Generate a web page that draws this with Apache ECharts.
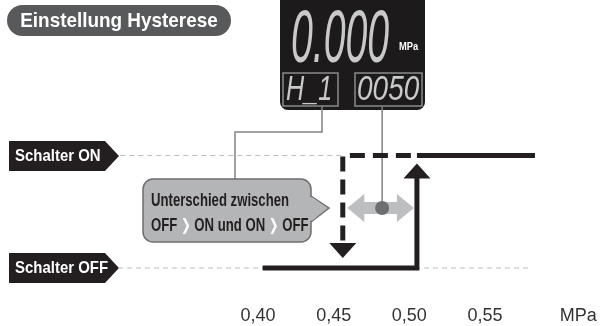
<!DOCTYPE html>
<html>
<head>
<meta charset="utf-8">
<script src="https://cdn.jsdelivr.net/npm/echarts@6/dist/echarts.min.js"></script>
<style>
html,body{margin:0;padding:0;background:#fff;}
#chart{width:615px;height:326px;}
</style>
</head>
<body>
<div id="chart"></div>
<script>
// pressure in 1/100 MPa, switch state 0 = OFF, 1 = ON
const xTicks = [40, 45, 50, 55];
const unitTick = 60;
const onGuide = [[30.9, 1], [45.6, 1]];
const offGuide = [[30.75, 0], [57.9, 0]];
const risePath = [[40.3, 0], [50.5, 0], [50.5, 0.8]];
const onPath = [[50.5, 1], [58.3, 1]];
const fallPath = [[50.1, 1], [45.6, 1], [45.6, 0.22]];
const upHead = [[50.5, 0.862]];
const downHead = [[45.6, 0.156]];
const hysteresis = [[45.9, 50.3, 0.533, 48.2]];

const sans = "'Liberation Sans', Arial, sans-serif";
const chart = echarts.init(document.getElementById('chart'));

function tag(y, label) {
    return [{
        type: 'polygon',
        shape: {points: [[9, y - 15], [105, y - 15], [119, y], [105, y + 15], [9, y + 15]]},
        style: {fill: '#231f20'}
    }, {
        type: 'text', x: 15, y: y, scaleX: 0.88,
        style: {text: label, fill: '#fff', font: 'bold 17px ' + sans, textVerticalAlign: 'middle'}
    }];
}

const option = {
    animation: false,
    grid: {left: 106.7, right: 54.3, top: 155.5, bottom: 58},
    xAxis: {
        type: 'value', min: 30, max: 60, interval: 5,
        axisLine: {show: false}, axisTick: {show: false}, splitLine: {show: false},
        axisLabel: {
            margin: 39, color: '#333', fontSize: 18, fontFamily: sans, showMaxLabel: true,
            formatter: function (v) {
                if (v === unitTick) return '{u|MPa}';
                return xTicks.indexOf(v) >= 0 ? '0,' + String(v).padStart(2, '0') : '';
            },
            rich: {u: {color: '#333', fontSize: 18, fontFamily: sans, padding: [0, 0, 0, 35]}}
        }
    },
    yAxis: {type: 'value', min: 0, max: 1, show: false},
    graphic: [
        {type: 'rect', shape: {x: 7, y: 5, width: 224, height: 31, r: 15.5}, style: {fill: '#58595b'}},
        {type: 'text', x: 119, y: 21, scaleX: 0.9, style: {text: 'Einstellung Hysterese', fill: '#fff',
            font: 'bold 21px ' + sans, textAlign: 'center', textVerticalAlign: 'middle'}},
        // display
        {type: 'rect', shape: {x: 280, y: -10, width: 145, height: 120, r: 8}, style: {fill: '#1c1a1b'}},
        {type: 'text', x: 291, y: 41, scaleX: 0.53, style: {text: '0.000', fill: '#c9c9c9',
            font: 'italic 74px ' + sans, textVerticalAlign: 'middle'}},
        {type: 'text', x: 399, y: 47, scaleX: 0.85, style: {text: 'MPa', fill: '#fff', font: 'bold 11px ' + sans, textVerticalAlign: 'middle'}},
        {type: 'rect', shape: {x: 283, y: 73, width: 55, height: 33}, style: {fill: 'none', stroke: '#8a8a8a', lineWidth: 1.5}},
        {type: 'text', x: 286, y: 90.5, scaleX: 0.72, style: {text: 'H_1', fill: '#c9c9c9',
            font: 'italic 35px ' + sans, textVerticalAlign: 'middle'}},
        {type: 'rect', shape: {x: 355, y: 73, width: 67, height: 33}, style: {fill: 'none', stroke: '#8a8a8a', lineWidth: 1.5}},
        {type: 'text', x: 357, y: 90.5, scaleX: 0.8, style: {text: '0050', fill: '#c9c9c9',
            font: 'italic 35px ' + sans, textVerticalAlign: 'middle'}},
        // connector to callout
        {type: 'polyline', shape: {points: [[322, 106], [322, 132], [235, 132], [235, 179]]},
            style: {stroke: '#808285', lineWidth: 1.5, fill: 'none'}},
        // callout
        {type: 'rect', shape: {x: 143, y: 179, width: 168, height: 63, r: 10},
            style: {fill: '#b4b5b7', stroke: '#6d6e71', lineWidth: 1.5}},
        {type: 'polygon', shape: {points: [[309, 196], [329, 208], [309, 222]]}, style: {fill: '#b4b5b7'}},
        {type: 'polyline', shape: {points: [[311, 196], [329, 208], [311, 222]]},
            style: {fill: 'none', stroke: '#6d6e71', lineWidth: 1.5}},
        {type: 'text', x: 151, y: 201, scaleX: 0.73, style: {text: 'Unterschied zwischen', fill: '#231f20',
            font: 'bold 18px ' + sans, textVerticalAlign: 'middle'}},
        {type: 'text', x: 151, y: 226, scaleX: 0.73, style: {
            text: '{t|OFF }{w|❯}{t| ON und ON }{w|❯}{t| OFF}',
            textVerticalAlign: 'middle',
            rich: {
                t: {fill: '#231f20', font: 'bold 18px ' + sans},
                w: {fill: '#fff', font: 'bold 16px DejaVu Sans'}
            }
        }}
    ].concat(tag(156, 'Schalter ON'), tag(268, 'Schalter OFF')),
    series: [
        {type: 'line', data: onGuide, symbol: 'none', clip: false, z: 1,
            lineStyle: {color: '#bcbec0', width: 1.2, type: [5, 4]}},
        {type: 'line', data: offGuide, symbol: 'none', clip: false, z: 1,
            lineStyle: {color: '#bcbec0', width: 1.2, type: [5, 4]}},
        {type: 'custom', z: 2, clip: false, data: hysteresis,
            renderItem: function (params, api) {
                const a = api.coord([api.value(0), api.value(2)]);
                const b = api.coord([api.value(1), api.value(2)]);
                const d = api.coord([api.value(3), api.value(2)]);
                const y = a[1], hl = 17, hh = 14, sh = 6;
                return {type: 'group', children: [
                    {type: 'polygon', shape: {points: [
                        [a[0], y], [a[0] + hl, y - hh], [a[0] + hl, y - sh], [b[0] - hl, y - sh], [b[0] - hl, y - hh],
                        [b[0], y], [b[0] - hl, y + hh], [b[0] - hl, y + sh], [a[0] + hl, y + sh], [a[0] + hl, y + hh]]},
                        style: {fill: '#bcbec0'}},
                    {type: 'line', shape: {x1: d[0], y1: 106, x2: d[0], y2: y}, style: {stroke: '#808285', lineWidth: 1.5}},
                    {type: 'circle', shape: {cx: d[0], cy: y, r: 7}, style: {fill: '#6d6e71'}}
                ]};
            }},
        {type: 'line', data: fallPath, symbol: 'none', clip: false, z: 3,
            lineStyle: {color: '#231f20', width: 5, type: [15, 8], cap: 'butt', join: 'miter'}},
        {type: 'line', data: risePath, symbol: 'none', clip: false, z: 3,
            lineStyle: {color: '#231f20', width: 5, cap: 'butt', join: 'miter'}},
        {type: 'line', data: onPath, symbol: 'none', clip: false, z: 3,
            lineStyle: {color: '#231f20', width: 5, cap: 'butt'}},
        {type: 'scatter', data: upHead, symbol: 'triangle', symbolSize: [27, 15], clip: false, z: 4,
            itemStyle: {color: '#231f20', opacity: 1}},
        {type: 'scatter', data: downHead, symbol: 'triangle', symbolSize: [27, 15], symbolRotate: 180, clip: false, z: 4,
            itemStyle: {color: '#231f20', opacity: 1}}
    ]
};
chart.setOption(option);
</script>
</body>
</html>
